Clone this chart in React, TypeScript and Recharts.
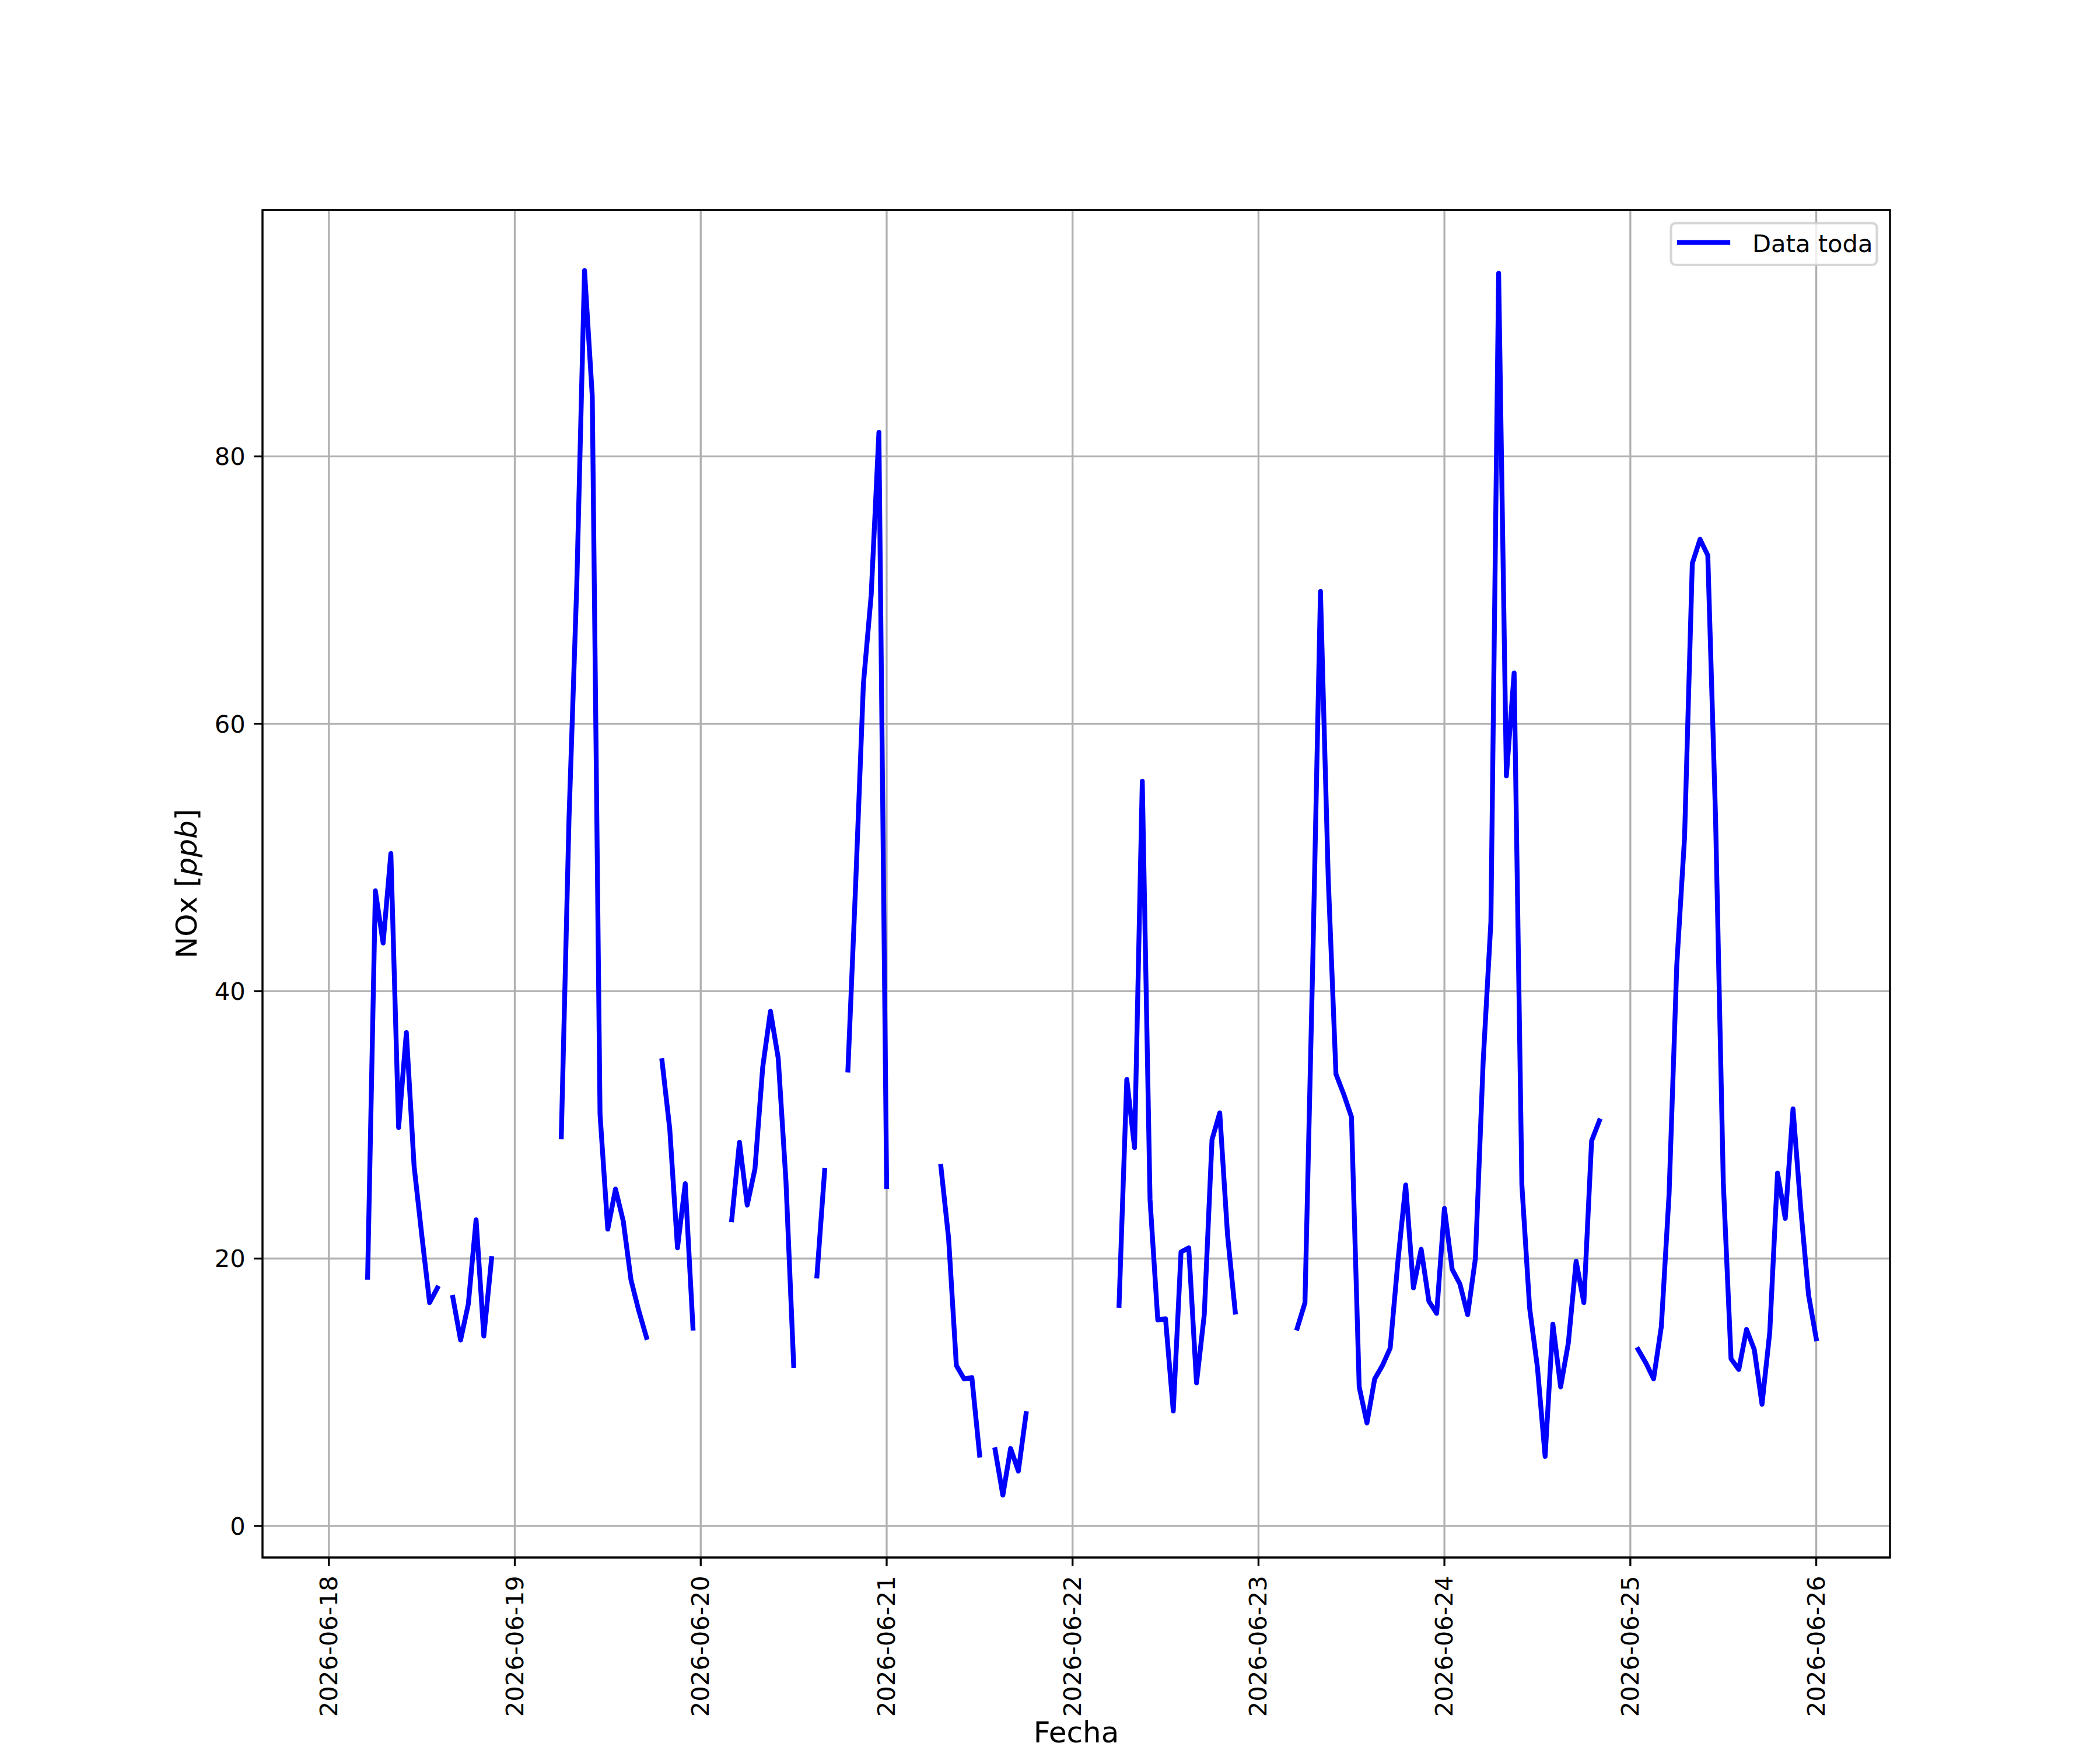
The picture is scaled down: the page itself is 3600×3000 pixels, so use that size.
import { LineChart, Line, XAxis, YAxis, CartesianGrid, ReferenceArea, Legend } from "recharts";

// tick labels
const dateLabels = [
  "2026-06-18", "2026-06-19", "2026-06-20", "2026-06-21", "2026-06-22",
  "2026-06-23", "2026-06-24", "2026-06-25", "2026-06-26",
];
const yTicks = [0, 20, 40, 60, 80];

// NOx [ppb], one value per hour (00..23) of each day, null = no data
const nox_0618 = [null, null, null, null, null, 18.6, 47.5, 43.6, 50.3, 29.8, 36.9, 26.9, 21.7, 16.7, 17.8, null, 17.1, 13.9, 16.6, 22.9, 14.2, 20.0, null, null];
const nox_0619 = [null, null, null, null, null, null, 29.1, 53.0, 70.4, 93.9, 84.5, 30.8, 22.2, 25.2, 22.8, 18.4, 16.1, 14.1, null, 34.8, 29.7, 20.8, 25.6, 14.8];
const nox_0620 = [null, null, null, null, 22.9, 28.7, 24.0, 26.7, 34.3, 38.5, 35.0, 25.8, 12.0, null, null, 18.7, 26.6, null, null, 34.1, 48.0, 63.0, 69.6, 81.8];
const nox_0621 = [25.4, null, null, null, null, null, null, 26.9, 21.5, 12.0, 11.0, 11.1, 5.3, null, 5.7, 2.3, 5.8, 4.1, 8.4, null, null, null, null, null];
const nox_0622 = [null, null, null, null, null, null, 16.5, 33.4, 28.3, 55.7, 24.4, 15.4, 15.5, 8.6, 20.5, 20.8, 10.7, 15.8, 28.9, 30.9, 21.8, 16.0, null, null];
const nox_0623 = [null, null, null, null, null, 14.8, 16.7, 42.0, 69.9, 48.5, 33.8, 32.3, 30.6, 10.4, 7.7, 11.0, 12.0, 13.3, 19.8, 25.5, 17.8, 20.7, 16.8, 15.9];
const nox_0624 = [23.75, 19.2, 18.1, 15.8, 20.0, 34.7, 45.2, 93.7, 56.1, 63.8, 25.5, 16.3, 11.9, 5.2, 15.1, 10.4, 13.7, 19.8, 16.7, 28.8, 30.3, null, null, null];
const nox_0625 = [null, 13.2, 12.2, 11.0, 14.9, 24.8, 42.0, 51.5, 72.0, 73.8, 72.6, 53.0, 25.7, 12.5, 11.7, 14.7, 13.2, 9.1, 14.5, 26.4, 23.0, 31.2, 23.75, 17.3];
const nox_0626 = [14.0];

const days = [nox_0618, nox_0619, nox_0620, nox_0621, nox_0622, nox_0623, nox_0624, nox_0625, nox_0626];

// t = hours since 2026-06-18 00:00
const chartData = days.flatMap((vals, d) => vals.map((v, h) => ({ t: d * 24 + h, nox: v })));
const dateTicks = dateLabels.map((_, i) => i * 24);

const W = 3600;
const H = 3000;
const PLOT = { left: 450, top: 360, right: 3240, bottom: 2670 };
const Y_AXIS_W = 100;
const X_AXIS_H = 300;

const X_DOMAIN: [number, number] = [-8.57, 201.52];
const Y_DOMAIN: [number, number] = [-2.36, 98.43];

const FONT = "'DejaVu Sans', sans-serif";
const FS = 41.67;
const FS_TITLE = 50;
const SPINE = 3.33;
const TICK = 14.6;

const DateTick = (props: any) => {
  const { x, y, payload } = props;
  const label = dateLabels[Math.round(payload.value / 24)];
  const bx = x + 14;
  return (
    <text
      x={bx}
      y={y + 2}
      transform={`rotate(-90, ${bx}, ${y + 2})`}
      textAnchor="end"
      fontFamily={FONT}
      fontSize={FS}
      fill="#000"
    >
      {label}
    </text>
  );
};

const XTitle = () => (
  <text
    x={(PLOT.left + PLOT.right) / 2}
    y={PLOT.bottom + 317}
    textAnchor="middle"
    fontFamily={FONT}
    fontSize={FS_TITLE}
    fill="#000"
  >
    Fecha
  </text>
);

const YTitle = () => {
  const x = 337;
  const y = (PLOT.top + PLOT.bottom) / 2;
  return (
    <text
      x={x}
      y={y}
      transform={`rotate(-90, ${x}, ${y})`}
      textAnchor="middle"
      fontFamily={FONT}
      fontSize={FS_TITLE}
      fill="#000"
    >
      NOx [<tspan fontStyle="italic">ppb</tspan>]
    </text>
  );
};

const LegendBox = () => (
  <svg width={366} height={84} style={{ display: "block" }}>
    <rect
      x={6.5}
      y={6.5}
      width={353}
      height={71.5}
      rx={8}
      fill="rgba(255,255,255,0.8)"
      stroke="rgba(204,204,204,0.8)"
      strokeWidth={4.17}
    />
    <line x1={21} x2={104} y1={39.7} y2={39.7} stroke="#0000ff" strokeWidth={8.3} strokeLinecap="square" />
    <text x={146} y={55.7} fontFamily={FONT} fontSize={FS} fill="#000">
      Data toda
    </text>
  </svg>
);

export default function App() {
  return (
    <div style={{ position: "absolute", left: 0, top: 0, width: W, height: H, background: "#fff" }}>
      <LineChart
        width={W}
        height={H}
        data={chartData}
        margin={{
          top: PLOT.top,
          right: W - PLOT.right,
          bottom: H - PLOT.bottom - X_AXIS_H,
          left: PLOT.left - Y_AXIS_W,
        }}
      >
        <CartesianGrid stroke="#b0b0b0" strokeWidth={SPINE} />
        <XAxis
          dataKey="t"
          type="number"
          domain={X_DOMAIN}
          allowDataOverflow
          ticks={dateTicks}
          interval={0}
          height={X_AXIS_H}
          axisLine={false}
          tickLine={{ stroke: "#000", strokeWidth: SPINE }}
          tickSize={TICK}
          tickMargin={TICK}
          tick={<DateTick />}
          label={{ content: <XTitle /> }}
        />
        <YAxis
          type="number"
          domain={Y_DOMAIN}
          allowDataOverflow
          ticks={yTicks}
          interval={0}
          width={Y_AXIS_W}
          axisLine={false}
          tickLine={{ stroke: "#000", strokeWidth: SPINE }}
          tickSize={TICK}
          tickMargin={TICK}
          tick={{ fill: "#000", fontSize: FS, fontFamily: FONT }}
          label={{ content: <YTitle /> }}
        />
        <Line
          type="linear"
          dataKey="nox"
          name="Data toda"
          stroke="#0000ff"
          strokeWidth={8.3}
          strokeLinejoin="round"
          strokeLinecap="square"
          dot={false}
          activeDot={false}
          connectNulls={false}
          isAnimationActive={false}
        />
        <ReferenceArea
          x1={X_DOMAIN[0]}
          x2={X_DOMAIN[1]}
          y1={Y_DOMAIN[0]}
          y2={Y_DOMAIN[1]}
          fill="none"
          stroke="#000"
          strokeWidth={SPINE}
          ifOverflow="visible"
        />
        <Legend
          layout="horizontal"
          verticalAlign="middle"
          align="center"
          width={366}
          height={84}
          wrapperStyle={{ left: 2858, top: 376, width: 366, height: 84 }}
          content={() => <LegendBox />}
        />
      </LineChart>
    </div>
  );
}
